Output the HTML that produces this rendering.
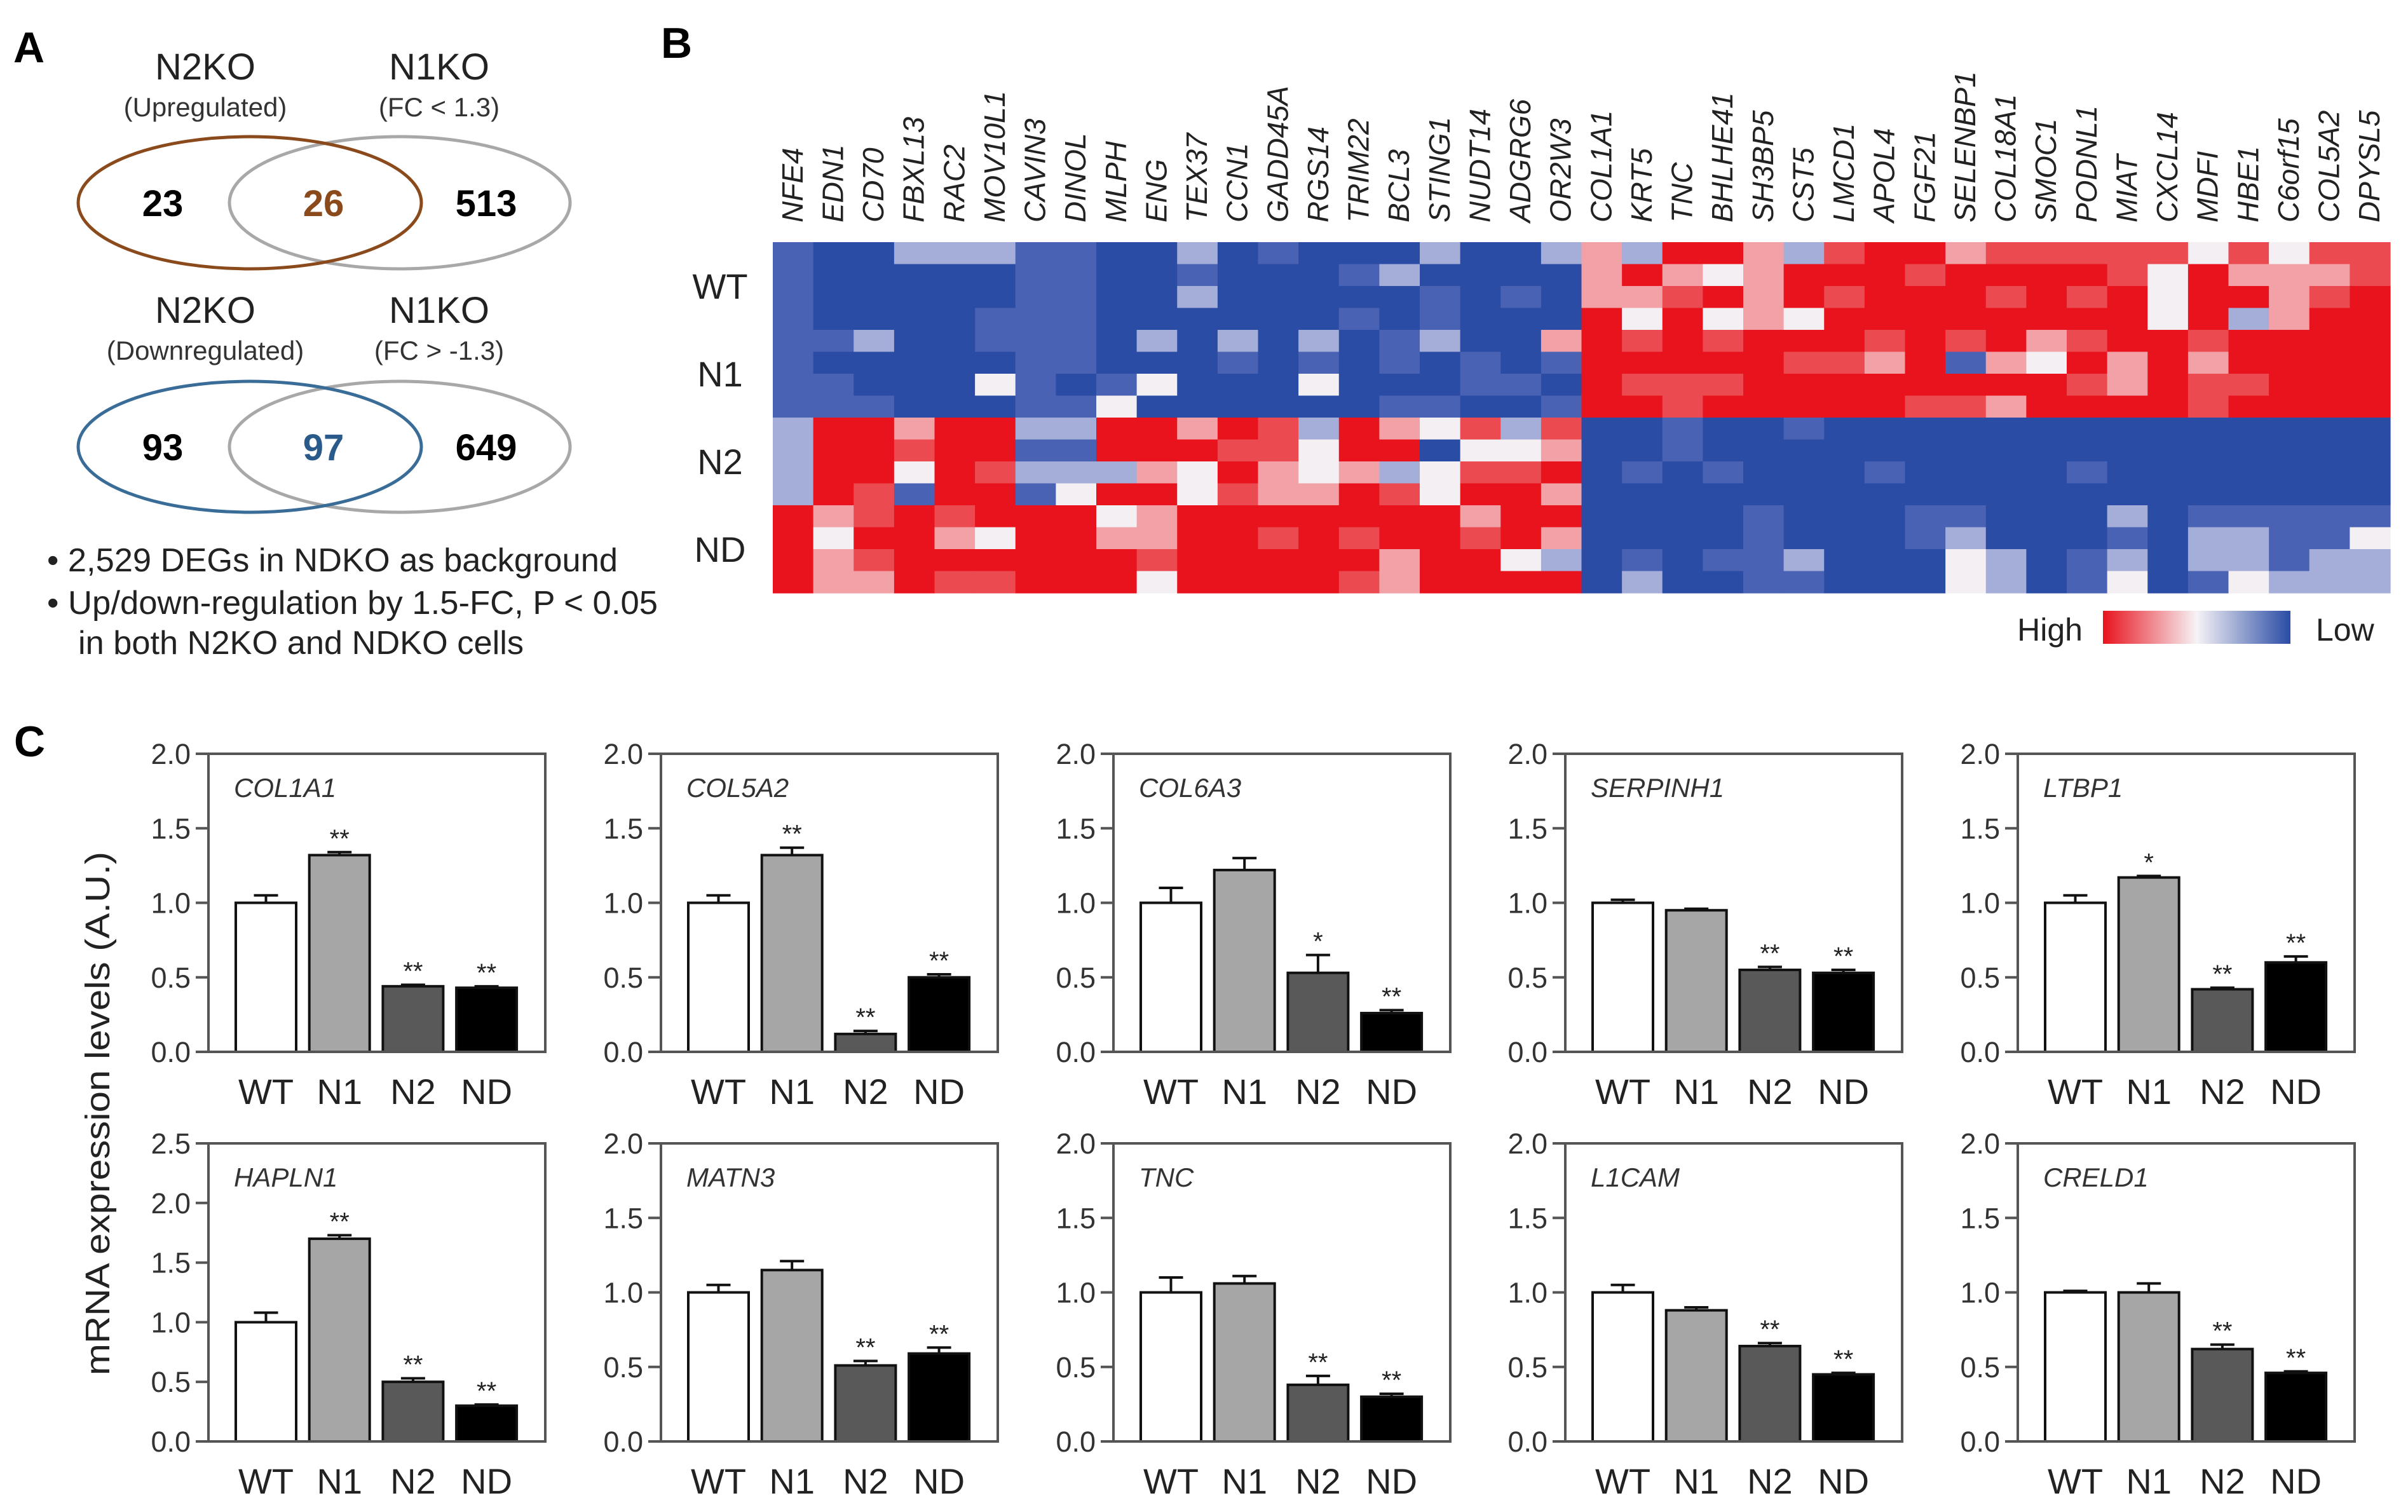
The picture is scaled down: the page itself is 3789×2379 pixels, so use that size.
<!DOCTYPE html>
<html><head><meta charset="utf-8"><style>
html,body{margin:0;padding:0;background:#fff;}
svg{display:block;font-family:"Liberation Sans",Arial,sans-serif;}
</style></head><body>
<svg id="fig" width="3789" height="2379" viewBox="0 0 3789 2379" xmlns="http://www.w3.org/2000/svg">
<rect width="3789" height="2379" fill="#fff"/>
<g>
<text x="21" y="98" font-size="68" font-weight="bold">A</text>
<text x="323" y="125" font-size="58" text-anchor="middle" fill="#222">N2KO</text>
<text x="323" y="183" font-size="42" text-anchor="middle" fill="#333">(Upregulated)</text>
<text x="691" y="125" font-size="58" text-anchor="middle" fill="#222">N1KO</text>
<text x="691" y="183" font-size="42" text-anchor="middle" fill="#333">(FC &lt; 1.3)</text>
<ellipse cx="629" cy="319" rx="268" ry="104" fill="none" stroke="#a8a8a8" stroke-width="5"/>
<ellipse cx="393" cy="319" rx="270" ry="104" fill="none" stroke="#8a4a1c" stroke-width="5"/>
<text x="256" y="340" font-size="58" font-weight="bold" text-anchor="middle">23</text>
<text x="509" y="340" font-size="58" font-weight="bold" text-anchor="middle" fill="#8a4a1c">26</text>
<text x="765" y="340" font-size="58" font-weight="bold" text-anchor="middle">513</text>
<text x="323" y="508" font-size="58" text-anchor="middle" fill="#222">N2KO</text>
<text x="323" y="566" font-size="42" text-anchor="middle" fill="#333">(Downregulated)</text>
<text x="691" y="508" font-size="58" text-anchor="middle" fill="#222">N1KO</text>
<text x="691" y="566" font-size="42" text-anchor="middle" fill="#333">(FC &gt; -1.3)</text>
<ellipse cx="629" cy="703" rx="268" ry="103" fill="none" stroke="#a8a8a8" stroke-width="5"/>
<ellipse cx="393" cy="703" rx="270" ry="103" fill="none" stroke="#3a6c98" stroke-width="5"/>
<text x="256" y="724" font-size="58" font-weight="bold" text-anchor="middle">93</text>
<text x="509" y="724" font-size="58" font-weight="bold" text-anchor="middle" fill="#2a5a8a">97</text>
<text x="765" y="724" font-size="58" font-weight="bold" text-anchor="middle">649</text>
<text x="74" y="899" font-size="52" textLength="898" lengthAdjust="spacingAndGlyphs" fill="#222">• 2,529 DEGs in NDKO as background</text>
<text x="74" y="966" font-size="52" textLength="961" lengthAdjust="spacingAndGlyphs" fill="#222">• Up/down-regulation by 1.5-FC, P &lt; 0.05</text>
<text x="123" y="1029" font-size="52" textLength="701" lengthAdjust="spacingAndGlyphs" fill="#222">in both N2KO and NDKO cells</text>
</g>
<g id="panelB">
<text x="1040" y="91" font-size="68" font-weight="bold">B</text>
<defs><linearGradient id="hmgrad" x1="0" x2="1" y1="0" y2="0"><stop offset="0" stop-color="#e8131d"/><stop offset="0.5" stop-color="#f6f3f6"/><stop offset="1" stop-color="#2a4ca5"/></linearGradient></defs>
<text x="3277" y="1008" font-size="50" text-anchor="end" fill="#222">High</text>
<rect x="3309" y="961" width="295" height="52" fill="url(#hmgrad)"/>
<text x="3644" y="1008" font-size="50" fill="#222">Low</text>
</g>
<g id="panelC">
<text x="22" y="1190" font-size="68" font-weight="bold">C</text>
<text transform="translate(172,1752) rotate(-90)" font-size="54" text-anchor="middle" textLength="824" lengthAdjust="spacingAndGlyphs" fill="#222">mRNA expression  levels  (A.U.)</text>
</g>
</svg>
<script>
// ---- Heatmap data (levels 0 = low/blue ... 6 = high/red) ----
const hmGenes = ["NFE4","EDN1","CD70","FBXL13","RAC2","MOV10L1","CAVIN3","DINOL","MLPH","ENG","TEX37","CCN1","GADD45A","RGS14","TRIM22","BCL3","STING1","NUDT14","ADGRG6","OR2W3","COL1A1","KRT5","TNC","BHLHE41","SH3BP5","CST5","LMCD1","APOL4","FGF21","SELENBP1","COL18A1","SMOC1","PODNL1","MIAT","CXCL14","MDFI","HBE1","C6orf15","COL5A2","DPYSL5"];
const hmGroups = ["WT","N1","N2","ND"];
const hmRows = [
"10022211002010002002"+"42664256645555535355",
"10000011001000120000"+"46434666566665364445",
"10000011002000001010"+"44564656665656366456",
"10000111000000101000"+"63634366666666362466",
"11200111020202012004"+"65656665656456656666",
"10000011000101010101"+"66666554614364646666",
"11000310130003000110"+"65556666666654655666",
"11100011300000011001"+"66566666554666656666",
"26646622664652643525"+"00100100000000000000",
"26656611666553660334"+"00100000000000000000",
"26636522243643423556"+"01010001000010000000",
"26516613663544653664"+"00000000000000000000",
"64565666346666666466"+"00001000110002011111",
"63664366446656566564"+"00001000120001022113",
"64566666656666646632"+"01011200032012022122",
"64465566636666546666"+"02001100032013013222"
];
const hmColors = ["#2a4ca5","#4a62b3","#a5aed9","#f3eff3","#f2a1a7","#ea4a50","#e8131d"];

// ---- Bar chart data ----
const barGroups = ["WT","N1","N2","ND"];
const barGenes = ["COL1A1","COL5A2","COL6A3","SERPINH1","LTBP1","HAPLN1","MATN3","TNC","L1CAM","CRELD1"];
const barMax = [2,2,2,2,2,2.5,2,2,2,2];
const barMeans = [
 [1.0,1.32,0.44,0.43],
 [1.0,1.32,0.12,0.50],
 [1.0,1.22,0.53,0.26],
 [1.0,0.95,0.55,0.53],
 [1.0,1.17,0.42,0.60],
 [1.0,1.70,0.50,0.30],
 [1.0,1.15,0.51,0.59],
 [1.0,1.06,0.38,0.30],
 [1.0,0.88,0.64,0.45],
 [1.0,1.00,0.62,0.46]
];
const barErrs = [
 [0.05,0.02,0.01,0.01],
 [0.05,0.05,0.02,0.02],
 [0.10,0.08,0.12,0.02],
 [0.02,0.01,0.02,0.02],
 [0.05,0.01,0.01,0.04],
 [0.08,0.03,0.03,0.01],
 [0.05,0.06,0.03,0.04],
 [0.10,0.05,0.06,0.02],
 [0.05,0.02,0.02,0.01],
 [0.01,0.06,0.03,0.01]
];
const barSig = [
 ["","**","**","**"],["","**","**","**"],["","","*","**"],["","","**","**"],["","*","**","**"],
 ["","**","**","**"],["","","**","**"],["","","**","**"],["","","**","**"],["","","**","**"]
];
const barFills = ["#ffffff","#a6a6a6","#595959","#000000"];

const NS="http://www.w3.org/2000/svg";
function mk(tag, attrs, parent){const e=document.createElementNS(NS,tag);for(const k in attrs)e.setAttribute(k,attrs[k]);parent.appendChild(e);return e;}

// ---- Heatmap ----
const gB=document.getElementById("panelB");
const hmX0=1216,hmX1=3761,hmY0=381,hmY1=933;
const nCols=hmGenes.length,nRows=hmRows.length;
const cw=(hmX1-hmX0)/nCols, rh=(hmY1-hmY0)/nRows;
const hmx=i=>hmX0+i*cw, hmy=r=>hmY0+r*rh;
for(let r=0;r<nRows;r++){
  for(let c=0;c<nCols;c++){
    const v=+hmRows[r][c];
    const cell=mk("rect",{x:hmx(c).toFixed(2),y:hmy(r).toFixed(2),width:(cw+0.6).toFixed(2),height:(rh+0.6).toFixed(2),fill:hmColors[v]},gB);
    
    
  }
}
hmGenes.forEach((g,i)=>{
  const cx=hmx(i)+cw/2+15;
  const t=mk("text",{transform:`translate(${cx.toFixed(1)},350) rotate(-90)`,"font-size":"46","font-style":"italic",fill:"#222"},gB);
  t.textContent=g;
  
  
});
hmGroups.forEach((g,i)=>{
  const cy=hmy(i*4+2)+20;
  const t=mk("text",{x:1133,y:cy.toFixed(1),"font-size":"56","text-anchor":"middle",fill:"#222"},gB);
  t.textContent=g;
  
  
});

// ---- Bar charts ----
const gC=document.getElementById("panelC");
const panelLeft=[328,1040,1752,2463,3175];
const rowTop=[1186,1799], rowBottom=[1655,2268];
const pw=530;
barGenes.forEach((gene,p)=>{
  const col=p%5,row=Math.floor(p/5);
  const L=panelLeft[col],T=rowTop[row],B=rowBottom[row],max=barMax[p];
  const ys=v=>B-(v/max)*(B-T);
  const xs=i=>L+43+i*115.7;
  const g=mk("g",{},gC);
  
  
  // ticks
  for(let v=0;v<=max+1e-9;v+=0.5){
    const y=ys(v);
    const tk=mk("line",{x1:L-20,x2:L,y1:y,y2:y,stroke:"#555","stroke-width":4},g);
    
    
    const tl=mk("text",{x:L-28,y:y+16,"font-size":"45","text-anchor":"end",fill:"#333"},g);
    tl.textContent=v.toFixed(1);
    
    
  }
  // bars
  barGroups.forEach((grp,i)=>{
    const m=barMeans[p][i],e=barErrs[p][i];
    const x=xs(i),cx=x+47.5;
    const ye=ys(m+e);
    const el=mk("line",{x1:cx,x2:cx,y1:ys(m),y2:ye,stroke:"#111","stroke-width":4},g);
    
    
    const ec=mk("line",{x1:cx-19,x2:cx+19,y1:ye,y2:ye,stroke:"#111","stroke-width":4},g);
    
    
    const b=mk("rect",{x:x,y:ys(m),width:95,height:B-ys(m),fill:barFills[i],stroke:"#111","stroke-width":4},g);
    
    
    if(barSig[p][i]){
      const s=mk("text",{x:cx,y:ye-8,"font-size":"40","text-anchor":"middle",fill:"#222"},g);
      s.textContent=barSig[p][i];
      
      
    }
    const xl=mk("text",{x:cx,y:(B+82),"font-size":"56","text-anchor":"middle",fill:"#222"},g);
    xl.textContent=grp;
    
    
  });
  const fr=mk("path",{d:`M${L-20},${B} H${L+pw} V${T} H${L} V${B}`,fill:"none",stroke:"#555","stroke-width":4},g);
  
  
  const gl=mk("text",{x:L+40,y:T+68,"font-size":"42","font-style":"italic",fill:"#333"},g);
  gl.textContent=gene;
  
  
});
</script>
</body></html>
